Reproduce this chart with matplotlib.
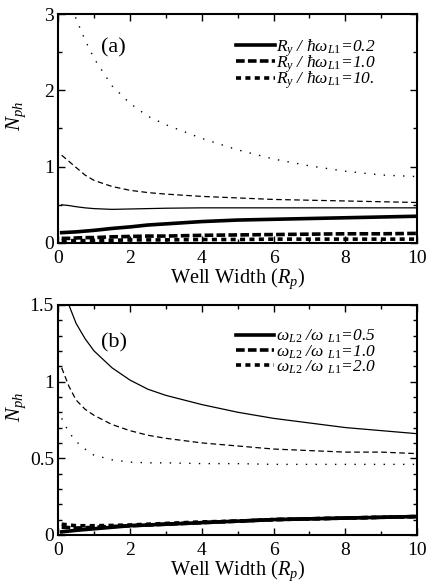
import matplotlib
matplotlib.use("Agg")
import matplotlib.pyplot as plt
from matplotlib.ticker import MultipleLocator, FuncFormatter

plt.rcParams['font.family'] = ['Liberation Serif', 'DejaVu Serif']
plt.rcParams['mathtext.fontset'] = 'custom'
plt.rcParams['mathtext.rm'] = 'Liberation Serif'
plt.rcParams['mathtext.it'] = 'Liberation Serif:italic'
plt.rcParams['mathtext.bf'] = 'Liberation Serif:bold'

x = [0.1, 0.3, 0.5, 0.75, 1, 1.5, 2, 2.5, 3, 4, 5, 6, 7, 8, 9, 10]

# Panel (a)
a_thin_dotted = [3.6, 3.2, 2.94, 2.66, 2.42, 2.06, 1.83, 1.66, 1.55, 1.37, 1.22, 1.10, 1.01, 0.94, 0.89, 0.87]
a_thin_dashed = [1.15, 1.07, 0.99, 0.89, 0.82, 0.74, 0.69, 0.66, 0.64, 0.61, 0.59, 0.57, 0.56, 0.55, 0.54, 0.53]
a_thin_solid = [0.50, 0.49, 0.475, 0.46, 0.45, 0.44, 0.445, 0.45, 0.455, 0.46, 0.46, 0.46, 0.46, 0.46, 0.46, 0.46]
a_thick_solid = [0.135, 0.14, 0.145, 0.155, 0.165, 0.19, 0.21, 0.235, 0.25, 0.28, 0.30, 0.31, 0.32, 0.33, 0.34, 0.35]
a_thick_dashed = [0.06, 0.06, 0.065, 0.07, 0.07, 0.08, 0.085, 0.09, 0.09, 0.10, 0.105, 0.11, 0.115, 0.12, 0.12, 0.125]
a_thick_short = [0.03, 0.03, 0.03, 0.03, 0.035, 0.035, 0.04, 0.04, 0.04, 0.045, 0.045, 0.05, 0.05, 0.05, 0.05, 0.05]
a_labels = [r'R$_y$ / $\hbar\omega_{L1}$=0.2',
            r'R$_y$ / $\hbar\omega_{L1}$=1.0',
            r'R$_y$ / $\hbar\omega_{L1}$=10.']

# Panel (b)
b_thin_solid = [1.7, 1.5, 1.38, 1.28, 1.20, 1.09, 1.01, 0.95, 0.91, 0.85, 0.80, 0.76, 0.73, 0.70, 0.68, 0.66]
b_thin_dashed = [1.09, 0.97, 0.88, 0.82, 0.78, 0.72, 0.68, 0.65, 0.63, 0.60, 0.58, 0.56, 0.55, 0.54, 0.54, 0.53]
b_thin_dotted = [0.76, 0.67, 0.61, 0.56, 0.52, 0.49, 0.475, 0.47, 0.47, 0.465, 0.465, 0.46, 0.46, 0.46, 0.46, 0.46]
b_thick_solid = [0.02, 0.025, 0.03, 0.035, 0.04, 0.05, 0.06, 0.065, 0.07, 0.08, 0.09, 0.10, 0.105, 0.11, 0.115, 0.12]
b_thick_dashed = [0.05, 0.048, 0.045, 0.047, 0.05, 0.055, 0.06, 0.065, 0.07, 0.08, 0.09, 0.10, 0.105, 0.11, 0.115, 0.12]
b_thick_short = [0.07, 0.065, 0.06, 0.06, 0.06, 0.062, 0.065, 0.07, 0.075, 0.085, 0.09, 0.10, 0.105, 0.11, 0.115, 0.12]
b_labels = [r'$\omega_{L2}$ /$\omega$ $_{L1}$=0.5',
            r'$\omega_{L2}$ /$\omega$ $_{L1}$=1.0',
            r'$\omega_{L2}$ /$\omega$ $_{L1}$=2.0']

fig = plt.figure(figsize=(4.27, 5.84), dpi=100)
axA = fig.add_axes([0.136, 0.584, 0.841, 0.392])
axB = fig.add_axes([0.136, 0.084, 0.841, 0.394])

long_dash = (0, (2.4, 0.9))
short_dash = (0, (1.4, 1.2))


def draw(ax, thin, thick, labels, ymax, ymajor, yminor, panel, ppos, leg_top, lsp):
    ax.plot(x, thin[0], color='k', lw=0.9, ls='-')
    ax.plot(x, thin[1], color='k', lw=0.9, ls=(0, (4.5, 2.7)))
    ax.plot(x, thin[2], color='k', lw=1.0, ls=(0, (1, 6)))
    l1, = ax.plot(x, thick[0], color='k', lw=2.6, ls='-', label=labels[0])
    l2, = ax.plot(x, thick[1], color='k', lw=2.6, ls=long_dash, label=labels[1])
    l3, = ax.plot(x, thick[2], color='k', lw=2.6, ls=short_dash, label=labels[2])
    ax.set_xlim(0, 10)
    ax.set_ylim(0, ymax)
    ax.xaxis.set_major_locator(MultipleLocator(2))
    ax.xaxis.set_minor_locator(MultipleLocator(1))
    ax.yaxis.set_major_locator(MultipleLocator(ymajor))
    ax.yaxis.set_minor_locator(MultipleLocator(yminor))
    ax.yaxis.set_major_formatter(FuncFormatter(lambda v, p: f'{v:g}'))
    ax.tick_params(which='both', direction='in', top=True, right=True, labelsize=14)
    ax.tick_params(axis='x', pad=5)
    ax.tick_params(axis='y', pad=3)
    ax.tick_params(which='major', length=5, width=1)
    ax.tick_params(which='minor', length=3, width=1)
    for s in ax.spines.values():
        s.set_linewidth(1.5)
    ax.set_xlabel(r'Well Width ($R_p$)', fontsize=14.7, labelpad=0)
    ax.set_ylabel(r'$N_{ph}$', fontsize=15)
    ax.yaxis.set_label_coords(-0.085, 0.555)
    ax.text(ppos[0], ppos[1], panel, fontsize=16, ha='left', va='center')
    ax.legend(handles=[l1, l2, l3], loc='upper right', frameon=False,
              prop={'size': 12.5, 'style': 'italic'},
              handlelength=2.2, handletextpad=0.1, labelspacing=lsp,
              borderaxespad=0.0, borderpad=0.0, bbox_to_anchor=(0.885, leg_top))


draw(axA, [a_thin_solid, a_thin_dashed, a_thin_dotted],
     [a_thick_solid, a_thick_dashed, a_thick_short], a_labels, 3, 1, 0.5, '(a)', (1.2, 2.55), 0.9, -0.3)
draw(axB, [b_thin_solid, b_thin_dashed, b_thin_dotted],
     [b_thick_solid, b_thick_dashed, b_thick_short], b_labels, 1.5, 0.5, 0.1, '(b)', (1.2, 1.25), 0.9, -0.12)

fig.savefig('out.png', dpi=100)
